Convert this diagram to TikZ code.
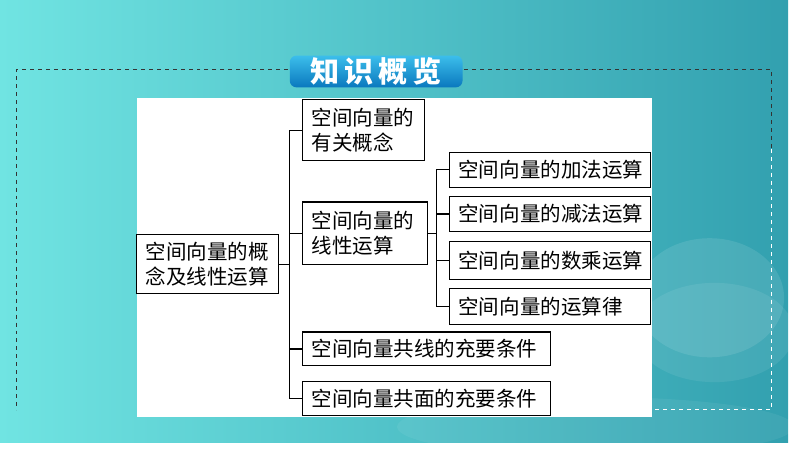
\documentclass[tikz,border=0pt]{standalone}
\usepackage{fontspec}
\newfontfamily\cjk{Noto Sans CJK SC}
\definecolor{bgA}{RGB}{112,228,226}
\definecolor{bgB}{RGB}{50,160,175}
\definecolor{banA}{RGB}{60,190,235}
\definecolor{banB}{RGB}{10,120,190}
\begin{document}
\begin{tikzpicture}[x=0.75pt,y=-0.75pt,
  box/.style={draw=black,line width=0.9pt,fill=white,font=\cjk\fontsize{15.5}{19}\selectfont,align=left,inner xsep=7pt,inner ysep=0pt,anchor=north west,text width=#1*0.75pt-14pt},
  link/.style={draw=black,line width=0.9pt}]
\shade[left color=bgA,right color=bgB] (0,0) rectangle (794,446);
\fill[white,opacity=0.10] (715,300) ellipse (75 and 60);
\fill[white,opacity=0.08] (720,335) ellipse (80 and 50);
\fill[white,opacity=0.06] (600,430) ellipse (200 and 30);
\useasboundingbox (0,0) rectangle (794,446);
% dashed frame
\draw[black!80,dashed,line width=0.7pt] (290,70) -- (17,70) -- (17,413);
\draw[black!80,dashed,line width=0.7pt] (468,70) -- (777,70) -- (777,150);
\draw[white!90,dashed,line width=0.7pt] (777,150) -- (777,413) -- (657,413);
% banner
\shade[top color=banA,bottom color=banB,rounded corners=5pt] (292,56) rectangle (466,88);
\node[text=white,font=\cjk\bfseries\fontsize{22}{24}\selectfont] (title) at (379,72) {知\,识\,概\,览};
% white panel
\fill[white] (138,99) rectangle (657,420);
% nodes
\node[box=143,minimum height=59*0.75pt] (root) at (137,236) {空间向量的概\\念及线性运算};
\node[box=123,minimum height=61*0.75pt] (A) at (304,100) {空间向量的\\有关概念};
\node[box=126,minimum height=63*0.75pt] (B) at (304,203) {空间向量的\\线性运算};
\node[box=203,minimum height=35*0.75pt] (C1) at (452,153) {空间向量的加法运算};
\node[box=203,minimum height=36*0.75pt] (C2) at (452,197) {空间向量的减法运算};
\node[box=203,minimum height=38*0.75pt] (C3) at (452,243) {空间向量的数乘运算};
\node[box=203,minimum height=36*0.75pt] (C4) at (452,290) {空间向量的运算律};
\node[box=250,minimum height=34*0.75pt] (D) at (304,334) {空间向量共线的充要条件};
\node[box=250,minimum height=34*0.75pt] (E) at (304,384) {空间向量共面的充要条件};
% connectors
\coordinate (bus) at (292,0);
\draw[link] (root.east) -- (root.east -| bus);
\draw[link] (A.west) -- (A.west -| bus) -- (E.west -| bus) -- (E.west);
\draw[link] (B.west) -- (B.west -| bus);
\draw[link] (D.west) -- (D.west -| bus);
\coordinate (bus2) at (440,0);
\draw[link] (B.east) -- (B.east -| bus2);
\draw[link] (C1.west) -- (C1.west -| bus2) -- (C4.west -| bus2) -- (C4.west);
\draw[link] (C2.west) -- (C2.west -| bus2);
\draw[link] (C3.west) -- (C3.west -| bus2);
\end{tikzpicture}
\end{document}
